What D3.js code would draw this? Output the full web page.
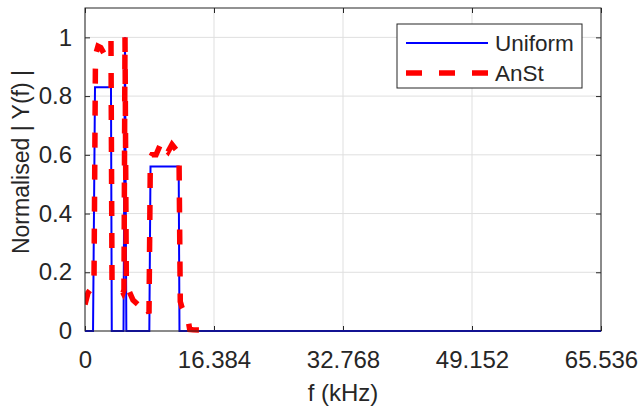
<!DOCTYPE html>
<html>
<head>
<meta charset="utf-8">
<script src="https://cdn.jsdelivr.net/npm/d3@7"></script>
<style>
  body { margin: 0; background: #fff; }
  text { font-family: "Liberation Sans", Arial, sans-serif; fill: #262626; }
</style>
</head>
<body>
<div id="chart"></div>
<script>
// tick values / labels
const xTicks = [0, 16.384, 32.768, 49.152, 65.536];
const xTickLabels = ["0", "16.384", "32.768", "49.152", "65.536"];
const yTicks = [0, 0.2, 0.4, 0.6, 0.8, 1];

// Uniform (blue) spectrum, f in kHz
const uniformF = [0, 1.02, 1.27, 3.30, 3.40, 4.89, 5.08, 5.25, 8.17, 8.32, 11.90, 12.00, 65.536];
const uniformY = [0, 0, 0.83, 0.83, 0, 0, 1.0, 0, 0, 0.56, 0.56, 0, 0];

// AnSt (red dashed) spectrum
const anstF = [0, 0.38, 0.8, 1.14, 1.33, 1.65, 2.0, 2.41, 2.8, 3.18, 3.30, 3.43, 3.81, 4.45, 4.83, 4.95,
  5.08, 5.25, 5.46, 6.10, 6.73, 7.3, 7.62, 8.0, 8.13, 8.30, 8.5, 9.02, 9.5, 9.91, 10.2, 10.54, 11.05,
  11.5, 11.81, 11.94, 12.1, 12.32, 12.7, 13.08, 13.3, 13.72, 15.6];
const anstY = [0.09, 0.13, 0.145, 0.15, 0.94, 0.97, 0.965, 0.945, 0.975, 0.99, 0.99, 0.17, 0.16, 0.15, 0.13, 0.14,
  1.0, 0.15, 0.145, 0.105, 0.09, 0.1, 0.08, 0.07, 0.06, 0.59, 0.6, 0.6, 0.63, 0.645, 0.62, 0.61, 0.635,
  0.62, 0.61, 0.6, 0.1, 0.08, 0.06, 0.04, 0.005, 0.004, 0.003];

const W = 642, H = 411;
const L = 85, R = 601, T = 8, B = 331;

const svg = d3.select("#chart").append("svg")
  .attr("width", W).attr("height", H);

const x = d3.scaleLinear().domain([0, 65.536]).range([L, R]);
const y = d3.scaleLinear().domain([0, 1.1]).range([B, T]);

// grid
const grid = svg.append("g").attr("stroke", "#dfdfdf").attr("stroke-width", 1);
xTicks.forEach(t => grid.append("line")
  .attr("x1", x(t)).attr("x2", x(t)).attr("y1", T).attr("y2", B));
yTicks.forEach(t => grid.append("line")
  .attr("x1", L).attr("x2", R).attr("y1", y(t)).attr("y2", y(t)));

// axes (ticks inward, MATLAB style)
const tickFont = 24;
const xAxis = d3.axisBottom(x).tickValues(xTicks)
  .tickFormat((d, i) => xTickLabels[i]).tickSizeInner(-5).tickSizeOuter(0).tickPadding(20);
const yAxis = d3.axisLeft(y).tickValues(yTicks)
  .tickFormat(d3.format("")).tickSizeInner(-5).tickSizeOuter(0).tickPadding(13);

const gx = svg.append("g").attr("transform", `translate(0,${B})`).call(xAxis);
const gy = svg.append("g").attr("transform", `translate(${L},0)`).call(yAxis);
[gx, gy].forEach(g => {
  g.select(".domain").remove();
  g.selectAll(".tick line").attr("stroke", "#262626");
  g.selectAll(".tick text").attr("font-size", tickFont).style("fill", "#262626")
    .attr("font-family", "Liberation Sans, Arial, sans-serif");
});

// top / right ticks
const gxt = svg.append("g").attr("transform", `translate(0,${T})`)
  .call(d3.axisTop(x).tickValues(xTicks).tickFormat("").tickSizeInner(-5).tickSizeOuter(0));
const gyr = svg.append("g").attr("transform", `translate(${R},0)`)
  .call(d3.axisRight(y).tickValues(yTicks).tickFormat("").tickSizeInner(-5).tickSizeOuter(0));
[gxt, gyr].forEach(g => {
  g.select(".domain").remove();
  g.selectAll(".tick line").attr("stroke", "#262626");
});

// clip
svg.append("clipPath").attr("id", "clip").append("rect")
  .attr("x", L).attr("y", T - 3).attr("width", R - L).attr("height", B - T + 6);

const line = d3.line().x(d => x(d[0])).y(d => y(d[1]));
const plot = svg.append("g").attr("clip-path", "url(#clip)");

plot.append("path")
  .datum(uniformF.map((f, i) => [f, uniformY[i]]))
  .attr("d", line).attr("fill", "none")
  .attr("stroke", "#0000ff").attr("stroke-width", 2);

plot.append("path")
  .datum(anstF.map((f, i) => [f, anstY[i]]))
  .attr("d", line).attr("fill", "none")
  .attr("stroke", "#ff0000").attr("stroke-width", 5.5)
  .attr("stroke-dasharray", "15,17");

// box
svg.append("rect").attr("x", L).attr("y", T).attr("width", R - L).attr("height", B - T)
  .attr("fill", "none").attr("stroke", "#262626").attr("stroke-width", 1);

// axis labels
svg.append("text").attr("x", (L + R) / 2).attr("y", 401)
  .attr("text-anchor", "middle").attr("font-size", 24).text("f (kHz)");
svg.append("text")
  .attr("transform", `translate(29,162) rotate(-90)`)
  .attr("text-anchor", "middle").attr("font-size", 23).text("Normalised | Y(f) |");

// legend
const leg = svg.append("g");
leg.append("rect").attr("x", 397).attr("y", 24).attr("width", 185).attr("height", 64)
  .attr("fill", "#fff").attr("stroke", "#262626").attr("stroke-width", 1);
leg.append("line").attr("x1", 406).attr("x2", 488).attr("y1", 43).attr("y2", 43)
  .attr("stroke", "#0000ff").attr("stroke-width", 2);
leg.append("line").attr("x1", 406).attr("x2", 488).attr("y1", 73).attr("y2", 73)
  .attr("stroke", "#ff0000").attr("stroke-width", 5.5).attr("stroke-dasharray", "16,17");
leg.append("text").attr("x", 495).attr("y", 51).attr("font-size", 22.5).text("Uniform");
leg.append("text").attr("x", 495).attr("y", 81).attr("font-size", 22.5).text("AnSt");
</script>
</body>
</html>
